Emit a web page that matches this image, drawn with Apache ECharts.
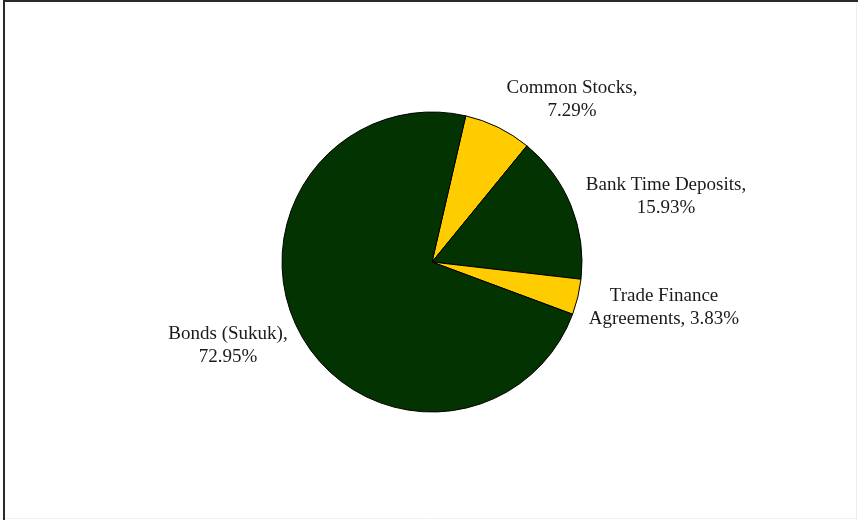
<!DOCTYPE html>
<html>
<head>
<meta charset="utf-8">
<style>
  html, body { margin: 0; padding: 0; background: #fff; }
  #chart { width: 858px; height: 520px; }
</style>
<script src="https://cdn.jsdelivr.net/npm/echarts@6/dist/echarts.min.js"></script>
</head>
<body>
<div id="chart"></div>
<script>
// Portfolio allocation by asset class (percent)
const categories = ['Common Stocks', 'Bank Time Deposits', 'Trade Finance\nAgreements', 'Bonds (Sukuk)'];
const shares = [7.29, 15.93, 3.83, 72.95];
const separators = [',\n', ',\n', ', ', ',\n'];

// Slice fills alternate yellow / dark green
const sliceColors = ['#FFCC00', '#023300', '#FFCC00', '#023300'];
// Label centres in page pixels
const labelCenters = [[572, 100], [666, 197], [664, 308], [228, 346]];

const chart = echarts.init(document.getElementById('chart'), null, { renderer: 'canvas' });

chart.setOption({
  backgroundColor: '#ffffff',
  animation: false,
  graphic: [
    { type: 'line', shape: { x1: 4, y1: 1, x2: 858, y2: 1 }, style: { stroke: '#2a2a2a', lineWidth: 2 } },
    { type: 'line', shape: { x1: 4, y1: 0, x2: 4, y2: 520 }, style: { stroke: '#2a2a2a', lineWidth: 2 } },
    { type: 'line', shape: { x1: 856.5, y1: 2, x2: 856.5, y2: 520 }, style: { stroke: '#ececec', lineWidth: 1 } },
    { type: 'line', shape: { x1: 5, y1: 518.5, x2: 858, y2: 518.5 }, style: { stroke: '#f0f0f0', lineWidth: 1 } }
  ],
  series: [{
    type: 'pie',
    center: [432, 262],
    radius: 150,
    startAngle: 77,
    clockwise: true,
    avoidLabelOverlap: false,
    data: categories.map((name, i) => ({
      name: name,
      value: shares[i],
      itemStyle: { color: sliceColors[i] }
    })),
    itemStyle: { borderColor: '#000', borderWidth: 1 },
    label: {
      show: true,
      position: 'outside',
      formatter: p => p.name + separators[p.dataIndex] + p.value.toFixed(2) + '%',
      fontFamily: '"Liberation Serif", "Times New Roman", serif',
      fontSize: 19,
      lineHeight: 23,
      color: '#1a1a1a',
      align: 'center',
      verticalAlign: 'middle'
    },
    labelLine: { show: false },
    labelLayout: p => ({
      x: labelCenters[p.dataIndex][0],
      y: labelCenters[p.dataIndex][1],
      align: 'center',
      verticalAlign: 'middle'
    }),
    emphasis: { disabled: true }
  }]
});
</script>
</body>
</html>
